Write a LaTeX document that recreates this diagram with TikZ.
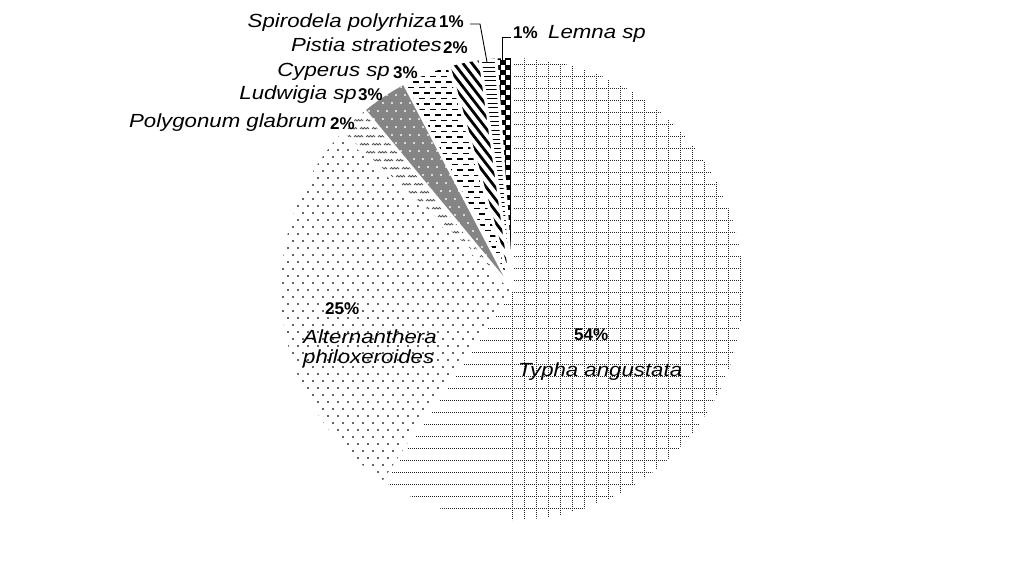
\documentclass[tikz,border=0pt]{standalone}
\usepackage{fontspec}
\setmainfont{Liberation Sans}
\newfontfamily\namefont[FakeStretch=1.17]{Liberation Sans}
\newfontfamily\pctfont{Liberation Sans}
\newcommand\wedgeP[2]{(512,289) -- ++(#1:231) arc[start angle=#1,end angle=#2,radius=231] -- cycle}
\tikzset{
  lbl/.style={inner sep=0pt,font=\namefont\itshape\fontsize{19}{21}\selectfont},
  pct/.style={inner sep=0pt,font=\pctfont\bfseries\fontsize{17}{19}\selectfont},
  leader/.style={black,line width=0.9pt},
  gridln/.style={black!85,line width=1pt,dash pattern=on 1pt off 1pt},
  sep/.style={white,line width=3pt}
}
\begin{document}
\begin{tikzpicture}[x=1pt,y=-1pt]
\useasboundingbox (0,0) rectangle (1020,576);
\fill[white] (0,0) rectangle (1020,576);
\coordinate (C) at (512,289);
% Typha angustata: dotted grid
\begin{scope}
\clip \wedgeP{-90}{123.63};
\foreach \xx in {512,524,...,752} \draw[gridln] (\xx,50) -- (\xx,530);
\foreach \yy in {52,64,...,532} \draw[gridln] (270,\yy) -- (760,\yy);
\end{scope}
% Alternanthera: sparse dots
\begin{scope}
\clip \wedgeP{123.63}{222.53};
\foreach \r in {0,...,65}{
  \pgfmathsetmacro\yy{58+\r*7}
  \pgfmathsetmacro\off{mod(\r,2)*5}
  \foreach \c in {0,...,25}{
    \fill[black!60] ({272+\off+\c*10},\yy) rectangle ++(1.5,1.5);
  }
}
\end{scope}
% Polygonum: squiggles
\begin{scope}
\clip \wedgeP{222.53}{230.44};
\foreach \r in {0,...,24}{
  \pgfmathsetmacro\yy{105+\r*8}
  \pgfmathsetmacro\off{mod(\r,2)*6}
  \foreach \c in {0,...,15}{
    \draw[black!65,line width=0.9pt] ({330+\off+\c*12},\yy) -- ++(1.5,-1.5) -- ++(1.5,1.5) -- ++(1.5,-1.5) -- ++(1.5,1.5) -- ++(1.5,-1.5) -- ++(1.5,1.5);
  }
}
\end{scope}
% Ludwigia: gray with white dots
\begin{scope}
\clip \wedgeP{230.44}{242.31};
\fill[black!48] (340,60) rectangle (520,295);
\foreach \r in {0,...,28}{
  \pgfmathsetmacro\yy{62+\r*8}
  \pgfmathsetmacro\off{mod(\r,2)*4.5}
  \foreach \c in {0,...,18}{
    \fill[white!85!black] ({350+\off+\c*9},\yy) rectangle ++(2,2);
  }
}
\end{scope}
% Cyperus: horizontal dashes
\begin{scope}
\clip \wedgeP{242.31}{254.18};
\foreach \r in {0,...,42}{
  \pgfmathsetmacro\yy{60+\r*5.5}
  \pgfmathsetmacro\ph{mod(\r,2)*5.5}
  \draw[black,line width=1.1pt,dash pattern=on 6pt off 5pt,dash phase=\ph pt] (380,\yy) -- (520,\yy);
}
\end{scope}
% Pistia: thick diagonals
\begin{scope}
\clip \wedgeP{254.18}{262.09};
\foreach \xx in {130,139,...,490} \draw[black,line width=2.8pt] (\xx,40) -- ++(200,260);
\end{scope}
% Spirodela: horizontal lines
\begin{scope}
\clip \wedgeP{262.09}{266.04};
\foreach \yy in {58,62.5,...,290} \draw[black,line width=0.9pt] (470,\yy) -- (520,\yy);
\end{scope}
% Lemna: checker
\begin{scope}
\clip \wedgeP{266.04}{270};
\foreach \j in {0,...,47}{
  \pgfmathsetmacro\o{mod(\j,2)*5}
  \foreach \i in {0,2}{
    \fill[black] ({495+\o+\i*5},{55+\j*5}) rectangle ++(5,5);
  }
}
\draw[black,line width=0.5pt] (495,55) grid[step=5] (515,295);
\end{scope}
% white separators
\foreach \a in {-90,123.63,222.53,230.44,242.31,254.18,262.09,266.04}
  \draw[sep] (C) -- ++(\a:236);
% labels
\node[lbl,anchor=base east] (spn) at (437,27) {Spirodela polyrhiza};
\node[pct,anchor=base west] (spp) at (439,27) {1\%};
\node[lbl,anchor=base east] (pin) at (442,51) {Pistia stratiotes};
\node[pct,anchor=base west] (pip) at (443,53) {2\%};
\node[lbl,anchor=base east] (cyn) at (390,76) {Cyperus sp};
\node[pct,anchor=base west] (cyp) at (393,78) {3\%};
\node[lbl,anchor=base east] (lun) at (357,99) {Ludwigia sp};
\node[pct,anchor=base west] (lup) at (358,100) {3\%};
\node[lbl,anchor=base east] (pon) at (327,127) {Polygonum glabrum};
\node[pct,anchor=base west] (pop) at (330,129) {2\%};
\node[pct,anchor=base west] (lep) at (513,38) {1\%};
\node[lbl,anchor=base west] (len) at (548,38) {Lemna sp};
\node[pct,anchor=base west] (alp) at (325,314) {25\%};
\node[lbl,anchor=base west] (aln1) at (303,343) {Alternanthera};
\node[lbl,anchor=base west] (aln2) at (303,363) {philoxeroides};
\node[pct,anchor=base west] (typ) at (574,340) {54\%};
\node[lbl,anchor=base west] (tyn) at (518,376) {Typha angustata};
% leaders
\coordinate (spA) at (470,24);
\coordinate (spB) at (480,24);
\coordinate (spC) at (487,62);
\draw[leader] (spA) -- (spB) -- (spC);
\coordinate (leA) at (511,37);
\coordinate (leB) at (502,37);
\coordinate (leC) at (502,60);
\draw[leader] (leA) -- (leB) -- (leC);
\end{tikzpicture}
\end{document}
